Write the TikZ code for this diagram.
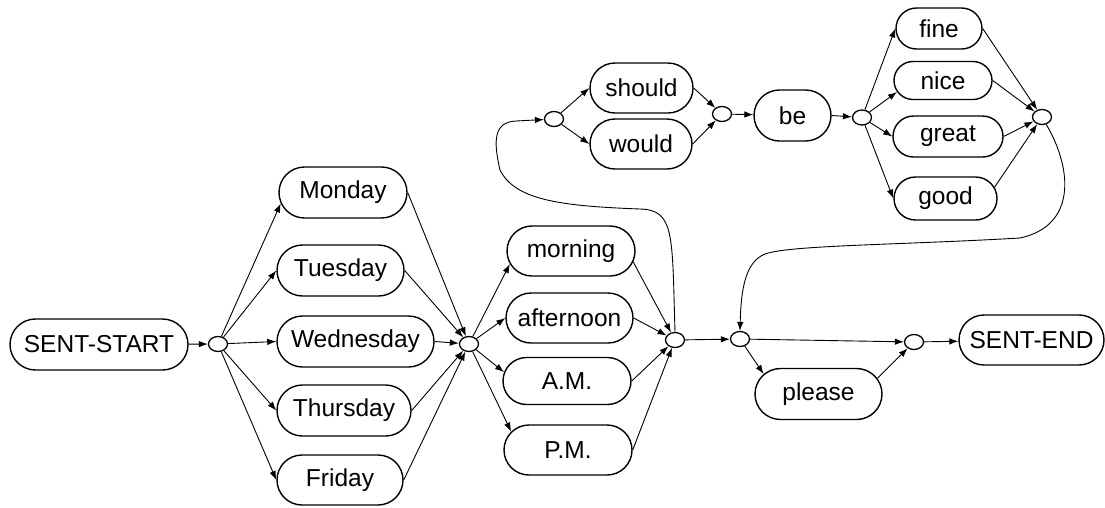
\documentclass[tikz,border=0pt]{standalone}
\usepackage{fontspec}
\setmainfont{Liberation Sans}
\usetikzlibrary{shapes.misc,shapes.geometric,arrows.meta}
\begin{document}
\begin{tikzpicture}[x=1pt,y=-1pt,
  word/.style={rounded rectangle, draw, line width=1.4pt, inner sep=0pt,
    minimum height=51pt, font=\fontsize{24.5}{28}\selectfont},
  st/.style={ellipse, draw, line width=1.3pt, minimum width=19pt,
    minimum height=15pt, inner sep=0pt},
  arr/.style={-{Latex[length=9pt,width=6.5pt]}, line width=0.9pt},
  ln/.style={line width=0.9pt}]
\useasboundingbox (0,0) rectangle (1105,507);

% word nodes
\node[word, minimum width=178pt] (start) at (99,344.5) {SENT-START};
\node[word, minimum width=128pt] (mon) at (343,192.5) {Monday};
\node[word, minimum width=127pt] (tue) at (340.5,270.5) {Tuesday};
\node[word, minimum width=157pt] (wed) at (355.5,341.5) {Wednesday};
\node[word, minimum width=134pt] (thu) at (344,410.5) {Thursday};
\node[word, minimum width=126pt, minimum height=50pt] (fri) at (340,480) {Friday};
\node[word, minimum width=128pt, minimum height=50pt] (morn) at (571,251) {morning};
\node[word, minimum width=127pt, minimum height=50pt] (aft) at (569.5,318) {afternoon};
\node[word, minimum width=128pt, minimum height=47pt] (am) at (567,381) {A.M.};
\node[word, minimum width=128pt, minimum height=50pt] (pm) at (568,450) {P.M.};
\node[word, minimum width=103pt, minimum height=50pt] (should) at (641.5,88) {should};
\node[word, minimum width=102pt, minimum height=50pt] (would) at (641,144) {would};
\node[word, minimum width=77pt] (be) at (792.5,115.5) {be};
\node[word, minimum width=86pt, minimum height=41pt] (fine) at (939,28.5) {fine};
\node[word, minimum width=98pt, minimum height=38pt] (nice) at (943,80.5) {nice};
\node[word, minimum width=110pt, minimum height=41pt] (great) at (948,136.5) {great};
\node[word, minimum width=103pt, minimum height=43pt] (good) at (945.5,198.5) {good};
\node[word, minimum width=145pt, minimum height=50pt] (end) at (1031.5,340) {SENT-END};
\node[word, minimum width=127pt] (please) at (818.5,394) {please};

% state nodes
\node[st] (c1) at (218,344) {};
\node[st] (c2) at (469,344) {};
\node[st] (c3) at (675,340) {};
\node[st] (c4) at (554,119) {};
\node[st] (c5) at (722,114) {};
\node[st] (c6) at (862,117.5) {};
\node[st] (c7) at (1042,117) {};
\node[st] (c8) at (740,339) {};
\node[st] (c9) at (914,342) {};

% connectors
\draw[arr] (start) -- (c1);
\draw[arr] (c1) -- (mon.190);
\draw[arr] (c1) -- (tue.west);
\draw[arr] (c1) -- (wed.west);
\draw[arr] (c1) -- (thu.west);
\draw[arr] (c1) -- (fri.west);
\draw[arr] (mon.east) -- (c2);
\draw[arr] (tue.east) -- (c2);
\draw[arr] (wed.east) -- (c2);
\draw[arr] (thu.east) -- (c2);
\draw[arr] (fri.east) -- (c2);
\draw[arr] (c2) -- (morn.192);
\draw[arr] (c2) -- (aft.west);
\draw[arr] (c2) -- (am.172);
\draw[arr] (c2) -- (pm.162);
\draw[arr] (morn.-10) -- (c3);
\draw[arr] (aft.east) -- (c3);
\draw[arr] (am.east) -- (c3);
\draw[arr] (pm.east) -- (c3);
\draw[arr] (c3) -- (c8);
\draw[arr] (c3.north) .. controls (672,235) and (675,210) .. (640,209)
  .. controls (560,206) and (515,200) .. (500,170)
  .. controls (493,140) and (494,122) .. (516,121) -- (c4);
\draw[arr] (c4) -- (should.west);
\draw[arr] (c4) -- (would.west);
\draw[arr] (should.east) -- (c5);
\draw[arr] (would.east) -- (c5);
\draw[arr] (c5) -- (be);
\draw[arr] (be.east) -- (c6);
\draw[arr] (c6) -- (fine.west);
\draw[arr] (c6) -- (nice.194);
\draw[arr] (c6) -- (great.west);
\draw[arr] (c6) -- (good.west);
\draw[arr] (fine.east) -- (c7);
\draw[arr] (nice.east) -- (c7);
\draw[arr] (great.east) -- (c7);
\draw[arr] (good.13) -- (c7);
\draw[arr] (c7.-60) .. controls (1073,170) and (1076,226) .. (1020,238)
  .. controls (900,245) and (790,245) .. (765,254)
  .. controls (745,262) and (741,290) .. (c8.north);
\draw[arr] (c8) -- (c9);
\draw[arr] (c8) -- (please.160);
\draw[arr] (please.15) -- (c9);
\draw[arr] (c9) -- (end);
\end{tikzpicture}
\end{document}
